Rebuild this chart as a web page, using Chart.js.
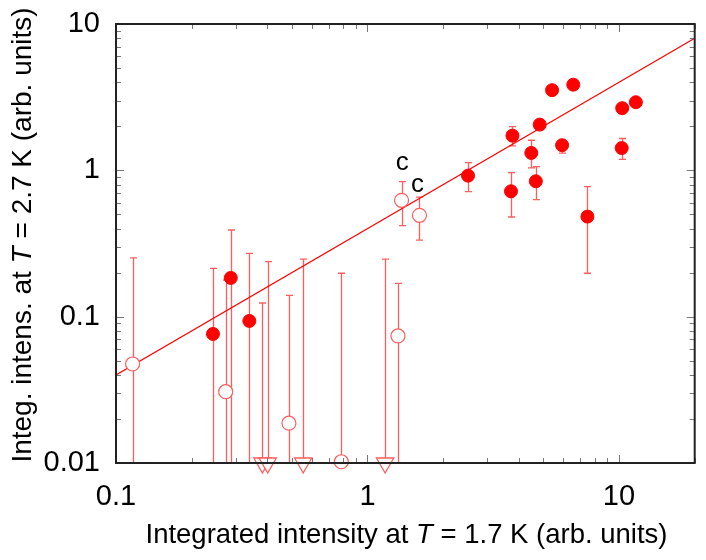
<!DOCTYPE html>
<html>
<head>
<meta charset="UTF-8">
<title>Integrated intensity comparison</title>
<style>
  html, body { margin: 0; padding: 0; background: #fff; }
  canvas { display: block; }
</style>
</head>
<body>
<canvas id="myChart" width="706" height="560"></canvas>
<script src="https://cdn.jsdelivr.net/npm/chart.js"></script>
<script>
// ---------------- data ----------------
// filled red circles
const filledX  = [0.243, 0.286, 0.339, 2.51, 3.77, 3.72, 4.48, 4.67, 4.84, 5.42, 6.58, 5.94, 7.49, 10.3, 11.67, 10.25];
const filledY  = [0.0762, 0.184, 0.0935, 0.92, 1.726, 0.719, 1.315, 0.842, 2.053, 3.53, 3.85, 1.485, 0.483, 2.66, 2.92, 1.42];
const filledLo = [0.001, 0.001, 0.001, 0.715, 1.468, 0.48, 1.038, 0.631, null, null, null, 1.31, 0.198, null, null, 1.19];
const filledHi = [0.214, 0.391, 0.271, 1.129, 1.99, 0.964, 1.606, 1.06, null, null, null, 1.62, 0.774, null, null, 1.65];

// open circles
const openX  = [0.1164, 0.273, 0.487, 0.787, 1.322, 1.366, 1.609];
const openY  = [0.0475, 0.0307, 0.0187, 0.0102, 0.0738, 0.624, 0.493];
const openLo = [0.001, 0.001, 0.001, 0.001, 0.001, 0.419, 0.333];
const openHi = [0.252, 0.178, 0.140, 0.198, 0.169, 0.837, 0.655];

// open down triangles sitting on the lower axis (upper limits)
const triX  = [0.382, 0.401, 0.555, 1.175];
const triY  = [0.01, 0.01, 0.01, 0.01];
const triHi = [0.124, 0.238, 0.247, 0.247];

// straight guide line
const fitX = [0.1, 20];
const fitY = [0.04, 8];

// "c" annotations
const noteText = ['c', 'c'];
const noteX = [1.374, 1.58];
const noteY = [1.124, 0.80];

// axes
const xTickValues = [0.1, 1, 10];
const xTickLabels = ['0.1', '1', '10'];
const yTickValues = [0.01, 0.1, 1, 10];
const yTickLabels = ['0.01', '0.1', '1', '10'];
const xTitle = ['Integrated intensity at ', 'T', ' = 1.7 K (arb. units)'];
const yTitle = ['Integ. intens. at ', 'T', ' = 2.7 K (arb. units)'];

const FONT = '"Liberation Sans", Arial, Helvetica, sans-serif';
const RED = '#ff0000';
const PALE = '#ff5c5c';
const BAR = 'rgba(255, 40, 40, 0.75)';

function pts(xs, ys) {
  return xs.map((v, i) => ({ x: v, y: ys[i] }));
}

function labelFor(values, labels) {
  return function (v) {
    const i = values.findIndex(t => Math.abs(Math.log10(t) - Math.log10(v)) < 1e-6);
    return i >= 0 ? labels[i] : '';
  };
}

// italic T inside an otherwise upright title
function drawTitle(ctx, parts, cx, cy, size) {
  const up = size + 'px ' + FONT;
  const it = 'italic ' + size + 'px ' + FONT;
  const fonts = [up, it, up];
  let widths = parts.map((p, i) => { ctx.font = fonts[i]; return ctx.measureText(p).width; });
  let total = widths.reduce((a, b) => a + b, 0);
  let x = cx - total / 2;
  ctx.textAlign = 'left';
  ctx.textBaseline = 'middle';
  ctx.fillStyle = '#000';
  parts.forEach((p, i) => {
    ctx.font = fonts[i];
    ctx.fillText(p, x, cy);
    x += widths[i];
  });
}

function logTicks(min, max) {
  const out = [];
  for (let d = Math.floor(Math.log10(min)); d <= Math.ceil(Math.log10(max)); d++) {
    for (let m = 1; m <= 9; m++) {
      const v = m * Math.pow(10, d);
      if (v >= min * 0.9999 && v <= max * 1.0001) out.push({ v: v, major: m === 1 });
    }
  }
  return out;
}

const inkPlugin = {
  id: 'ink',
  beforeDatasetsDraw(chart) {
    const { ctx, chartArea: a, scales: { x, y } } = chart;
    ctx.save();
    ctx.beginPath();
    ctx.rect(a.left, a.top - 2, a.right - a.left, a.bottom - a.top + 2);
    ctx.clip();
    ctx.strokeStyle = BAR;
    ctx.lineWidth = 1.3;
    const cap = 3.5;
    function bars(xs, lo, hi) {
      xs.forEach((xv, i) => {
        if (hi[i] == null) return;
        const px = Math.round(x.getPixelForValue(xv)) + 0.5;
        const top = y.getPixelForValue(hi[i]);
        const bot = lo[i] == null ? a.bottom + 20 : Math.min(y.getPixelForValue(lo[i]), a.bottom + 20);
        ctx.beginPath();
        ctx.moveTo(px, top); ctx.lineTo(px, bot);
        ctx.moveTo(px - cap, top); ctx.lineTo(px + cap, top);
        if (bot < a.bottom) { ctx.moveTo(px - cap, bot); ctx.lineTo(px + cap, bot); }
        ctx.stroke();
      });
    }
    bars(filledX, filledLo, filledHi);
    bars(openX, openLo, openHi);
    bars(triX, triX.map(() => 0.001), triHi);
    ctx.restore();
  },
  afterDraw(chart) {
    const { ctx, chartArea: a, scales: { x, y } } = chart;
    ctx.save();
    // inside ticks on all four sides
    ctx.strokeStyle = '#777';
    ctx.lineWidth = 1;
    ctx.beginPath();
    logTicks(0.1, 20).forEach(t => {
      const px = Math.round(x.getPixelForValue(t.v)) + 0.5;
      const len = t.major ? 8 : 5;
      ctx.moveTo(px, a.bottom); ctx.lineTo(px, a.bottom - len);
      ctx.moveTo(px, a.top); ctx.lineTo(px, a.top + len);
    });
    logTicks(0.01, 10).forEach(t => {
      const py = Math.round(y.getPixelForValue(t.v)) + 0.5;
      const len = t.major ? 8 : 5;
      ctx.moveTo(a.left, py); ctx.lineTo(a.left + len, py);
      ctx.moveTo(a.right, py); ctx.lineTo(a.right - len, py);
    });
    ctx.stroke();
    // frame
    ctx.strokeStyle = '#222';
    ctx.lineWidth = 2;
    ctx.strokeRect(a.left, a.top, a.right - a.left, a.bottom - a.top);
    // "c" notes
    ctx.fillStyle = '#000';
    ctx.font = '26px ' + FONT;
    ctx.textAlign = 'center';
    ctx.textBaseline = 'middle';
    noteText.forEach((s, i) => ctx.fillText(s, x.getPixelForValue(noteX[i]), y.getPixelForValue(noteY[i])));
    // axis titles
    drawTitle(ctx, xTitle, 406.5, 535.5, 27.5);
    ctx.translate(23, 235);
    ctx.rotate(-Math.PI / 2);
    drawTitle(ctx, yTitle, 0, 0, 28);
    ctx.restore();
  }
};

const myChart = new Chart(document.getElementById('myChart'), {
  data: {
    datasets: [
      {
        type: 'scatter',
        data: pts(filledX, filledY),
        pointStyle: 'circle',
        pointRadius: 6.5,
        pointBackgroundColor: RED,
        pointBorderColor: RED,
        pointBorderWidth: 1,
        clip: false,
        order: 1
      },
      {
        type: 'scatter',
        data: pts(openX, openY),
        pointStyle: 'circle',
        pointRadius: 7,
        pointBackgroundColor: '#fff',
        pointBorderColor: PALE,
        pointBorderWidth: 1.2,
        clip: false,
        order: 2
      },
      {
        type: 'scatter',
        data: pts(triX, triY),
        pointStyle: 'triangle',
        pointRotation: 180,
        pointRadius: 10,
        pointBackgroundColor: '#fff',
        pointBorderColor: PALE,
        pointBorderWidth: 1.3,
        clip: false,
        order: 3
      },
      {
        type: 'line',
        data: pts(fitX, fitY),
        borderColor: RED,
        borderWidth: 1.2,
        pointRadius: 0,
        fill: false,
        order: 4
      }
    ]
  },
  options: {
    responsive: false,
    devicePixelRatio: 1,
    animation: false,
    events: [],
    layout: { padding: { left: 0, top: 24, right: 7, bottom: 0 } },
    plugins: { legend: { display: false }, tooltip: { enabled: false } },
    scales: {
      x: {
        type: 'logarithmic',
        position: 'bottom',
        min: 0.1,
        max: 20,
        grid: { display: false, drawTicks: false },
        border: { display: false },
        afterBuildTicks: s => { s.ticks = xTickValues.map(v => ({ value: v })); },
        afterFit: s => { s.height = 97; s.paddingLeft = 0; s.paddingRight = 0; },
        ticks: {
          callback: labelFor(xTickValues, xTickLabels),
          autoSkip: false,
          maxRotation: 0,
          padding: 17,
          color: '#000',
          font: { family: FONT, size: 29 }
        }
      },
      y: {
        type: 'logarithmic',
        position: 'left',
        min: 0.01,
        max: 10,
        grid: { display: false, drawTicks: false },
        border: { display: false },
        afterBuildTicks: s => { s.ticks = yTickValues.map(v => ({ value: v })); },
        afterFit: s => { s.width = 116; s.paddingTop = 0; s.paddingBottom = 0; },
        ticks: {
          callback: labelFor(yTickValues, yTickLabels),
          autoSkip: false,
          padding: 16,
          color: '#000',
          font: { family: FONT, size: 29 }
        }
      }
    }
  },
  plugins: [inkPlugin]
});
</script>
</body>
</html>
